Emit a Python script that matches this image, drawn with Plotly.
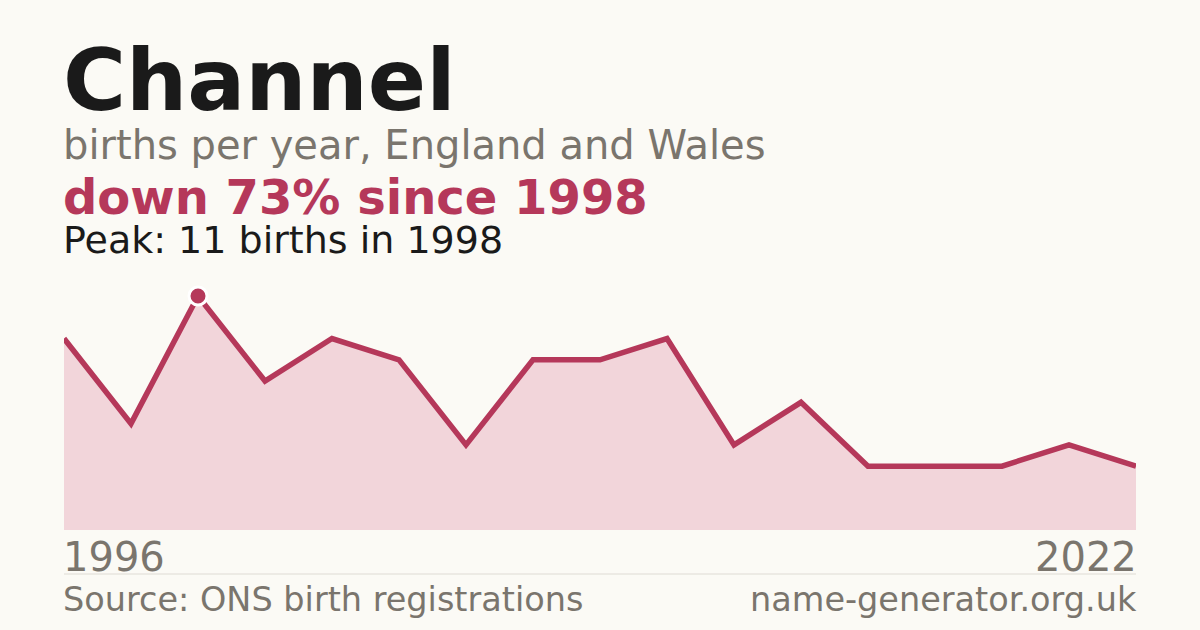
import plotly.graph_objects as go

# births per year for the name (years with suppressed counts are left out)
years = ["1996", "1997", "1998", "1999", "2000", "2001", "2002", "2003", "2004",
         "2005", "2006", "2007", "2008", "2009", "2010", "2011", "2022"]
births = [9, 5, 11, 7, 9, 8, 4, 8, 8, 9, 4, 6, 3, 3, 3, 4, 3]

name = "Channel"
subtitle = "births per year, England and Wales"
source = "Source: ONS birth registrations"
site = "name-generator.org.uk"

peak = max(births)
peak_i = births.index(peak)
change = round((births[-1] - peak) / peak * 100)

bg = "#fbfaf5"
accent = "#b5385a"
grey = "#7a756d"
dark = "#1a1a1a"
font = "DejaVu Sans"

fig = go.Figure()

fig.add_trace(go.Scatter(
    x=years, y=births,
    mode="lines",
    line=dict(color=accent, width=5.5),
    fill="tozeroy",
    fillcolor="#f2d5da",
    hoverinfo="skip",
))

fig.add_trace(go.Scatter(
    x=[years[peak_i]], y=[peak],
    mode="markers",
    marker=dict(color=accent, size=18, line=dict(color="white", width=3)),
    hoverinfo="skip",
))

def py(p):
    # pixel row -> paper y (plot area runs from 280 to 530 px)
    return (530 - p) / 250

texts = [
    (name, 86, dark, True, 80),
    (subtitle, 40, grey, False, 145),
    (f"down {abs(change)}% since {years[peak_i]}", 48, accent, True, 197),
    (f"Peak: {peak} births in {years[peak_i]}", 38, dark, False, 240),
]
for txt, size, col, bold, ypx in texts:
    fig.add_annotation(
        text=f"<b>{txt}</b>" if bold else txt,
        xref="paper", yref="paper", x=0, y=py(ypx), xshift=-3,
        xanchor="left", yanchor="middle", showarrow=False,
        font=dict(family=font, size=size, color=col),
    )

foot = [
    (years[0], 0, "left", -3, 40, 557),
    (years[-1], 1, "right", 3, 40, 557),
    (source, 0, "left", -3, 33.5, 599),
    (site, 1, "right", 3, 33.5, 599),
]
for txt, x, anchor, shift, size, ypx in foot:
    fig.add_annotation(text=txt, xref="paper", yref="paper", x=x, y=py(ypx), xshift=shift,
                       xanchor=anchor, yanchor="middle", showarrow=False,
                       font=dict(family=font, size=size, color=grey))

fig.add_shape(type="line", xref="paper", yref="paper", x0=0, x1=1,
              y0=py(574), y1=py(574), line=dict(color="#dedbd4", width=1))

fig.update_layout(
    width=1200, height=630,
    margin=dict(l=64, r=64, t=280, b=100),
    paper_bgcolor=bg, plot_bgcolor=bg,
    showlegend=False,
    xaxis=dict(type="category", range=[0, len(years) - 1], visible=False, fixedrange=True),
    yaxis=dict(range=[0, 11.75], visible=False, fixedrange=True),
)

fig.write_html("out.html", config={"displayModeBar": False},
               post_script="document.body.style.margin='0';document.body.style.background='%s';" % bg)
